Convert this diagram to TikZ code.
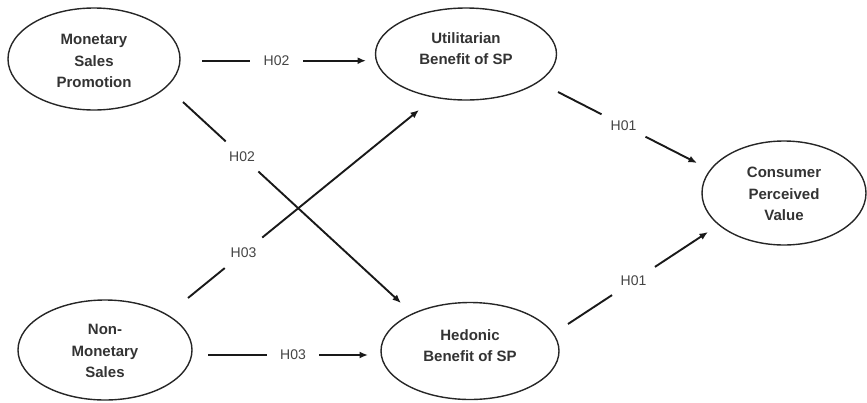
\documentclass[tikz,border=0pt]{standalone}
\usepackage{fontspec}
\setmainfont{Liberation Sans}
\usetikzlibrary{arrows.meta,shapes.geometric}
\definecolor{txt}{HTML}{333333}
\definecolor{lbl}{HTML}{444444}
\begin{document}
\begin{tikzpicture}[x=1pt,y=-1pt,
  ell/.style={draw=black!85,line width=1.4pt,ellipse,inner sep=0pt},
  etext/.style={font=\fontsize{15}{21.5}\selectfont\bfseries,text=txt,align=center},
  hlab/.style={circle,inner sep=0pt,font=\fontsize{14}{16}\selectfont,text=lbl},
  arr/.style={line width=1.9pt,draw=black!90},
  tip/.style={arr,-{Latex[length=8.5pt,width=7pt]}}]
\useasboundingbox (0,0) rectangle (867,402);
% ellipses
\node[ell,minimum width=172pt,minimum height=102pt] (msp) at (94,59) {};
\node[etext] (mspT) at (94,61) {Monetary\\Sales\\Promotion};
\node[ell,minimum width=181pt,minimum height=92pt] (util) at (466,54) {};
\node[etext] (utilT) at (466,48.5) {Utilitarian\\Benefit of SP};
\node[ell,minimum width=174pt,minimum height=100pt] (nms) at (105,350) {};
\node[etext] (nmsT) at (105,351) {Non-\\Monetary\\Sales};
\node[ell,minimum width=178pt,minimum height=97pt] (hed) at (470,351) {};
\node[etext] (hedT) at (470,345.5) {Hedonic\\Benefit of SP};
\node[ell,minimum width=164pt,minimum height=104pt] (cpv) at (784,193) {};
\node[etext] (cpvT) at (784,194) {Consumer\\Perceived\\Value};
% connector ends
\coordinate (s1) at (202,60.7); \coordinate (e1) at (366,60.7);
\coordinate (s2) at (183,102);  \coordinate (e2) at (401,303);
\coordinate (s3) at (188,298);  \coordinate (e3) at (419,110);
\coordinate (s4) at (208,355);  \coordinate (e4) at (368,355);
\coordinate (s5) at (558,92);   \coordinate (e5) at (697,163);
\coordinate (s6) at (568,324);  \coordinate (e6) at (708,232);
% labels
\node[hlab,minimum size=53pt] (l1) at (276.5,60.7) {H02};
\node[hlab,minimum size=44pt] (l2) at (242,156.4) {H02};
\node[hlab,minimum size=48pt] (l3) at (243.5,252.8) {H03};
\node[hlab,minimum size=52pt] (l4) at (293,355) {H03};
\node[hlab,minimum size=49pt] (l5) at (623.5,125.5) {H01};
\node[hlab,minimum size=51pt] (l6) at (633.5,281) {H01};
% connectors
\foreach \i in {1,...,6}{
  \draw[arr] (s\i) -- (l\i);
  \draw[tip] (l\i) -- (e\i);
}
\end{tikzpicture}
\end{document}
